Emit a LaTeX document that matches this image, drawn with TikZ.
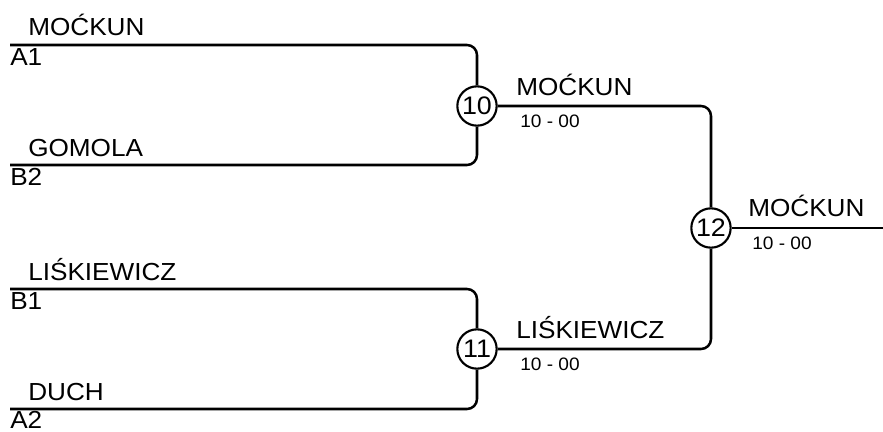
\documentclass[tikz,border=0pt]{standalone}
\usepackage{fontspec}
\setmainfont{Liberation Sans}
\newcommand{\wide}[1]{\scalebox{1.06}[1]{#1}}
\begin{document}
\begin{tikzpicture}[x=0.75pt,y=-0.75pt,
  wire/.style={line width=1.9pt, rounded corners=7.5pt},
  match/.style={circle, draw, line width=1.6pt, fill=white, minimum size=29.5pt, inner sep=0pt, font=\fontsize{19}{19}\selectfont},
  pname/.style={anchor=base west, inner sep=0pt, font=\fontsize{18.5}{18.5}\selectfont},
  pseed/.style={anchor=base west, inner sep=0pt, font=\fontsize{18.5}{18.5}\selectfont},
  pscore/.style={anchor=base west, inner sep=0pt, font=\fontsize{13.5}{13.5}\selectfont}]
\useasboundingbox (0,0) rectangle (883,432);
% start points
\coordinate (a1) at (10,45);
\coordinate (b2) at (10,165);
\coordinate (b1) at (10,289);
\coordinate (a2) at (10,409);
\coordinate (fin) at (883,228);
% matches
\node[match] (m10) at (477,106) {\wide{10}};
\node[match] (m11) at (477,349) {\wide{11}};
\node[match] (m12) at (711,228) {\wide{12}};
% wires
\draw[wire] (a1) -| (m10.north);
\draw[wire] (b2) -| (m10.south);
\draw[wire] (b1) -| (m11.north);
\draw[wire] (a2) -| (m11.south);
\draw[wire] (m10.east) -| (m12.north);
\draw[wire] (m11.east) -| (m12.south);
\draw[wire] (m12.east) -- (fin);
% labels
\node[pname] (n1) at (28,36) {\wide{MOĆKUN}};
\node[pseed] (s1) at (10,65) {\wide{A1}};
\node[pname] (n2) at (28,156) {\wide{GOMOLA}};
\node[pseed] (s2) at (10,185) {\wide{B2}};
\node[pname] (n3) at (28,280) {\wide{LIŚKIEWICZ}};
\node[pseed] (s3) at (10,309) {\wide{B1}};
\node[pname] (n4) at (28,400) {\wide{DUCH}};
\node[pseed] (s4) at (10,428) {\wide{A2}};
\node[pname] (w10) at (516,95) {\wide{MOĆKUN}};
\node[pscore] (r10) at (520,127) {\wide{10 - 00}};
\node[pname] (w11) at (516,338) {\wide{LIŚKIEWICZ}};
\node[pscore] (r11) at (520,370) {\wide{10 - 00}};
\node[pname] (w12) at (748,216) {\wide{MOĆKUN}};
\node[pscore] (r12) at (752,249) {\wide{10 - 00}};
\end{tikzpicture}
\end{document}
